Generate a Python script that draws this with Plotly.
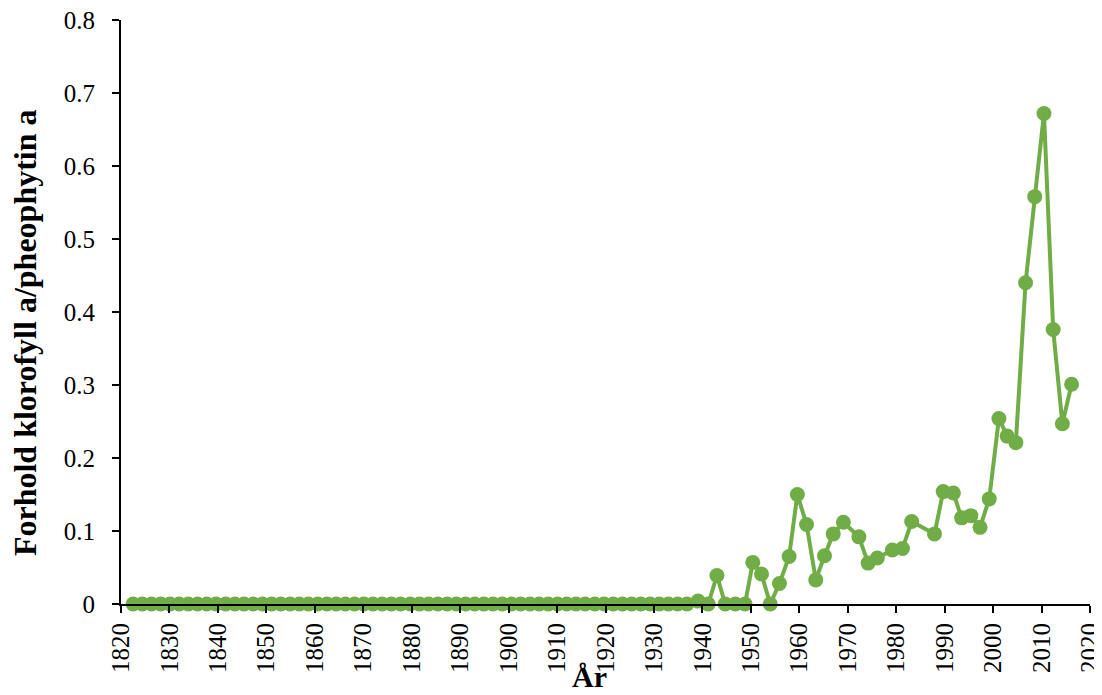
import plotly.graph_objects as go

years = [1822.5, 1824.4, 1826.3, 1828.2, 1830.1, 1832.0, 1833.9, 1835.8, 1837.7, 1839.6,
         1841.6, 1843.5, 1845.4, 1847.3, 1849.2, 1851.1, 1853.0, 1854.9, 1856.8, 1858.7,
         1860.6, 1862.5, 1864.4, 1866.3, 1868.2, 1870.1, 1872.0, 1873.9, 1875.8, 1877.7,
         1879.7, 1881.6, 1883.5, 1885.4, 1887.3, 1889.2, 1891.1, 1893.0, 1894.9, 1896.8,
         1898.7, 1900.6, 1902.5, 1904.4, 1906.3, 1908.2, 1910.1, 1912.0, 1913.9, 1915.8,
         1917.8, 1919.7, 1921.6, 1923.5, 1925.4, 1927.3, 1929.2, 1931.1, 1933.0, 1934.9,
         1936.8, 1939.1, 1941.2, 1943.0, 1944.7, 1946.8, 1948.8, 1950.4, 1952.2, 1954.0,
         1955.9, 1957.9, 1959.6, 1961.5, 1963.4, 1965.2, 1967.0, 1969.1, 1972.3, 1974.2,
         1976.1, 1979.2, 1981.3, 1983.2, 1987.9, 1989.7, 1991.8, 1993.5, 1995.4, 1997.3,
         1999.2, 2001.2, 2002.9, 2004.7, 2006.7, 2008.6, 2010.5, 2012.4, 2014.3, 2016.2]

ratio = [0.0] * 61 + [
    0.004, 0.0, 0.039, 0.0, 0.0, 0.0, 0.057, 0.041, 0.0,
    0.028, 0.065, 0.150, 0.109, 0.033, 0.066, 0.096, 0.112, 0.092, 0.056,
    0.063, 0.074, 0.076, 0.113, 0.096, 0.154, 0.152, 0.118, 0.121, 0.105,
    0.144, 0.254, 0.230, 0.221, 0.440, 0.558, 0.672, 0.376, 0.247, 0.301]

x_ticks = list(range(1820, 2021, 10))
y_ticks = [0, 0.1, 0.2, 0.3, 0.4, 0.5, 0.6, 0.7, 0.8]
y_tick_labels = ["0", "0.1", "0.2", "0.3", "0.4", "0.5", "0.6", "0.7", "0.8"]

x_title = "År"
y_title = "Forhold klorofyll a/pheophytin a"

green = "#70AD47"
font_family = "Liberation Serif"

fig = go.Figure()
fig.add_trace(go.Scatter(
    x=years, y=ratio, mode="lines+markers",
    line=dict(color=green, width=4),
    marker=dict(color=green, size=15, line=dict(width=0)),
    showlegend=False, cliponaxis=False,
))

# the page body has an 8px margin, so the figure is sized to fit the window
fig.update_layout(
    width=1094, height=687,
    margin=dict(l=113, r=12, t=12, b=91),
    paper_bgcolor="white", plot_bgcolor="white",
    font=dict(family=font_family, color="black", size=25),
    xaxis=dict(
        range=[1820, 2020], tickmode="array", tickvals=x_ticks,
        ticktext=[str(t) for t in x_ticks], tickangle=-90,
        showline=True, linecolor="black", linewidth=2,
        ticks="outside", ticklen=7, tickwidth=2, tickcolor="black",
        showgrid=False, zeroline=False, automargin=False,
        ticklabeloverflow="allow",
        tickfont=dict(family=font_family, size=25, color="black"),
    ),
    yaxis=dict(
        range=[0, 0.8], tickmode="array", tickvals=y_ticks, ticktext=y_tick_labels,
        showline=True, linecolor="black", linewidth=2,
        ticks="outside", ticklen=7, tickwidth=2, tickcolor="black",
        showgrid=False, zeroline=False, automargin=False, ticklabelstandoff=12,
        ticklabeloverflow="allow",
        tickfont=dict(family=font_family, size=25, color="black"),
    ),
    annotations=[
        dict(text="<b>" + x_title + "</b>", xref="paper", yref="paper",
             x=0.483, y=-0.1555, xanchor="center", yanchor="bottom", showarrow=False,
             font=dict(family=font_family, size=30, color="black")),
        dict(text="<b>" + y_title + "</b>", xref="paper", yref="paper",
             x=-0.099, y=0.464, xanchor="center", yanchor="middle", showarrow=False,
             textangle=-90, font=dict(family=font_family, size=32, color="black")),
    ],
)

fig.write_html("out.html")
